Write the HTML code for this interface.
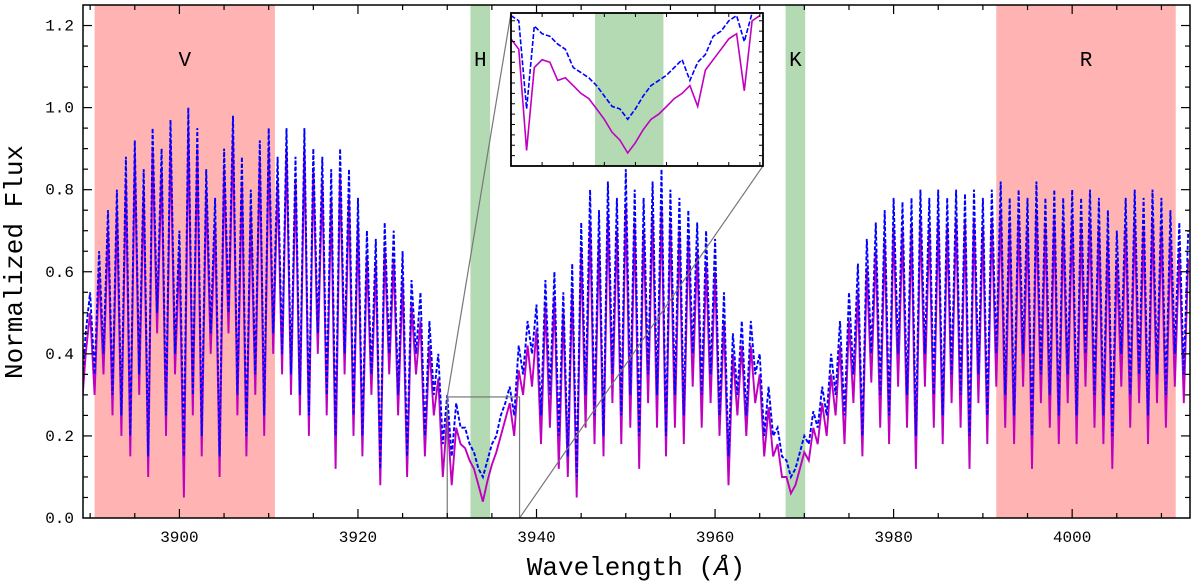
<!DOCTYPE html>
<html><head><meta charset="utf-8">
<style>
body{margin:0;background:#fff;}
svg{display:block;font-family:"Liberation Mono","DejaVu Sans Mono",monospace;}
</style></head>
<body>
<svg id="chart" width="1200" height="585" viewBox="0 0 1200 585" xmlns="http://www.w3.org/2000/svg"></svg>
<script>
// ---- data ----
const wlStart = 3889.0, wlStep = 0.5;
const blueFlux = [
0.30,0.45,0.55,0.35,0.65,0.40,0.75,0.30,0.80,0.25,
0.88,0.20,0.92,0.35,0.85,0.15,0.95,0.50,0.90,0.25,
0.97,0.40,0.70,0.15,1.00,0.30,0.95,0.20,0.85,0.45,
0.78,0.15,0.90,0.50,0.98,0.30,0.88,0.20,0.80,0.35,
0.92,0.25,0.95,0.45,0.88,0.40,0.95,0.35,0.88,0.30,
0.95,0.25,0.90,0.45,0.88,0.30,0.85,0.20,0.90,0.40,
0.85,0.25,0.78,0.20,0.70,0.35,0.68,0.12,0.72,0.40,
0.70,0.30,0.65,0.15,0.58,0.40,0.55,0.20,0.48,0.30,
0.40,0.18,0.30,0.15,0.28,0.22,0.22,0.18,0.16,0.12,
0.10,0.14,0.18,0.20,0.25,0.28,0.32,0.25,0.42,0.35,
0.48,0.40,0.52,0.25,0.58,0.30,0.60,0.20,0.55,0.15,
0.62,0.10,0.72,0.30,0.80,0.25,0.75,0.20,0.82,0.35,
0.78,0.25,0.85,0.30,0.80,0.20,0.78,0.35,0.82,0.30,
0.85,0.20,0.80,0.30,0.78,0.25,0.75,0.40,0.72,0.30,
0.70,0.35,0.68,0.25,0.55,0.15,0.45,0.30,0.48,0.25,
0.48,0.35,0.40,0.20,0.32,0.20,0.22,0.15,0.14,0.10,
0.12,0.16,0.20,0.18,0.26,0.22,0.32,0.25,0.40,0.30,
0.48,0.25,0.55,0.35,0.62,0.20,0.68,0.40,0.72,0.30,
0.75,0.25,0.78,0.40,0.77,0.30,0.78,0.20,0.80,0.40,
0.78,0.30,0.80,0.25,0.78,0.35,0.80,0.30,0.79,0.20,
0.80,0.35,0.78,0.25,0.80,0.40,0.82,0.30,0.78,0.25,
0.80,0.40,0.78,0.20,0.82,0.35,0.78,0.30,0.80,0.25,
0.78,0.35,0.80,0.25,0.78,0.40,0.80,0.30,0.78,0.25,
0.75,0.20,0.70,0.40,0.78,0.30,0.80,0.35,0.78,0.25,
0.80,0.35,0.78,0.30,0.75,0.40,0.72,0.35,0.70];
const magentaFlux = [
0.25,0.40,0.50,0.30,0.60,0.35,0.70,0.25,0.75,0.20,
0.82,0.15,0.88,0.30,0.80,0.10,0.90,0.45,0.85,0.20,
0.92,0.35,0.65,0.05,0.95,0.25,0.90,0.15,0.80,0.40,
0.72,0.10,0.85,0.45,0.93,0.25,0.82,0.15,0.75,0.30,
0.88,0.20,0.90,0.40,0.82,0.35,0.90,0.30,0.82,0.25,
0.90,0.20,0.85,0.40,0.82,0.25,0.78,0.12,0.84,0.35,
0.78,0.20,0.72,0.15,0.64,0.30,0.62,0.08,0.66,0.35,
0.63,0.25,0.58,0.10,0.52,0.35,0.48,0.15,0.42,0.25,
0.34,0.10,0.25,0.08,0.22,0.18,0.17,0.14,0.12,0.08,
0.04,0.09,0.13,0.16,0.20,0.24,0.28,0.20,0.36,0.30,
0.42,0.32,0.46,0.18,0.52,0.22,0.54,0.12,0.50,0.10,
0.56,0.05,0.66,0.22,0.72,0.18,0.68,0.15,0.74,0.28,
0.70,0.18,0.76,0.22,0.72,0.12,0.70,0.28,0.74,0.22,
0.76,0.15,0.72,0.22,0.70,0.18,0.68,0.32,0.65,0.22,
0.62,0.28,0.60,0.20,0.48,0.08,0.40,0.25,0.42,0.20,
0.42,0.28,0.35,0.15,0.27,0.15,0.18,0.10,0.10,0.06,
0.08,0.12,0.16,0.14,0.22,0.18,0.28,0.20,0.35,0.25,
0.42,0.18,0.48,0.28,0.55,0.15,0.61,0.33,0.65,0.22,
0.68,0.18,0.71,0.32,0.70,0.22,0.71,0.12,0.73,0.32,
0.71,0.22,0.73,0.18,0.71,0.28,0.73,0.22,0.72,0.12,
0.73,0.28,0.71,0.18,0.73,0.32,0.75,0.22,0.71,0.18,
0.73,0.32,0.71,0.12,0.75,0.28,0.71,0.22,0.73,0.18,
0.71,0.28,0.73,0.18,0.71,0.32,0.73,0.22,0.71,0.18,
0.68,0.12,0.63,0.32,0.71,0.22,0.73,0.28,0.71,0.18,
0.73,0.28,0.71,0.22,0.68,0.32,0.65,0.28,0.63];
const insetStart = 3930.0, insetStep = 0.25;
const insetBlue = [0.29,0.28,0.11,0.27,0.255,0.25,0.235,0.225,0.19,0.18,0.17,0.155,0.135,0.115,0.11,0.09,0.11,0.135,0.155,0.165,0.175,0.19,0.205,0.165,0.20,0.215,0.25,0.26,0.28,0.29,0.24,0.295,0.295];
const insetMagenta = [0.245,0.225,0.03,0.19,0.205,0.20,0.165,0.17,0.155,0.14,0.13,0.11,0.09,0.065,0.05,0.025,0.045,0.07,0.09,0.10,0.115,0.13,0.14,0.155,0.115,0.185,0.205,0.225,0.245,0.255,0.145,0.28,0.29];
const bandNames = ["V","H","K","R"];
const bandStarts = [3890.5, 3932.6, 3967.9, 3991.5];
const bandEnds = [3910.7, 3934.8, 3970.1, 4011.6];
const xTickLabels = [3900,3920,3940,3960,3980,4000];
const yTickLabels = [0.0,0.2,0.4,0.6,0.8,1.0,1.2];

// ---- layout ----
const NS="http://www.w3.org/2000/svg";
const svg=document.getElementById('chart');
const X0=83,X1=1190,Y0=5,Y1=518;
const xMin=3889.2,xMax=4013.2,yMin=0,yMax=1.25;
const xs=v=>X0+(v-xMin)/(xMax-xMin)*(X1-X0);
const ys=v=>Y1-(v-yMin)/(yMax-yMin)*(Y1-Y0);
function mk(tag,attrs,parent){const e=document.createElementNS(NS,tag);for(const k in attrs)e.setAttribute(k,attrs[k]);(parent||svg).appendChild(e);return e;}

const defs=mk('defs',{});
const cp=mk('clipPath',{id:'plotclip'},defs);
mk('rect',{x:X0,y:Y0,width:X1-X0,height:Y1-Y0},cp);

// bands
bandNames.forEach((n,i)=>{
  const isCa=(n==="H"||n==="K");
  const r=mk('rect',{x:xs(bandStarts[i]),y:Y0,width:xs(bandEnds[i])-xs(bandStarts[i]),height:Y1-Y0,fill:isCa?'#b3dab3':'#ffb3b3'});
  
  
  const t=mk('text',{x:(xs(bandStarts[i])+xs(bandEnds[i]))/2,y:66,'text-anchor':'middle','font-size':21,fill:'#000'});
  t.textContent=n;
  
  
});

function pathFrom(arr,start,step,xf,yf){return arr.map((v,i)=>(i?'L':'M')+xf(start+i*step).toFixed(1)+' '+yf(v).toFixed(1)).join(' ');}
const g=mk('g',{'clip-path':'url(#plotclip)'});
const pm=mk('path',{d:pathFrom(magentaFlux,wlStart,wlStep,xs,ys),fill:'none',stroke:'#c000c0','stroke-width':1.9},g);


const pb=mk('path',{d:pathFrom(blueFlux,wlStart,wlStep,xs,ys),fill:'none',stroke:'#0000ff','stroke-width':1.9,'stroke-dasharray':'4,2'},g);



// zoom rectangle + connectors
const zx0=xs(3930),zx1=xs(3938.1),zyT=ys(0.295);
const IX0=511,IX1=763,IY0=13,IY1=166;
const zr=mk('rect',{x:zx0,y:zyT,width:zx1-zx0,height:Y1-zyT,fill:'none',stroke:'#777','stroke-width':1.2});


mk('line',{x1:zx0,y1:zyT,x2:IX0,y2:IY0,stroke:'#777','stroke-width':1.2});
mk('line',{x1:zx1,y1:Y1,x2:IX1,y2:IY1,stroke:'#777','stroke-width':1.2});

// axes frame
const fr=mk('rect',{x:X0,y:Y0,width:X1-X0,height:Y1-Y0,fill:'none',stroke:'#000','stroke-width':1.5});



// ticks
for(let w=3890;w<=4013;w+=5){const x=xs(w);const maj=(w%20===0);const L=maj?9:5;
  mk('line',{x1:x,y1:Y1,x2:x,y2:Y1-L,stroke:'#000','stroke-width':1.2});
  mk('line',{x1:x,y1:Y0,x2:x,y2:Y0+L,stroke:'#000','stroke-width':1.2});}
for(let k=1;k<25;k++){const v=k*0.05;const y=ys(v);const maj=(k%4===0);const L=maj?9:5;
  mk('line',{x1:X0,y1:y,x2:X0+L,y2:y,stroke:'#000','stroke-width':1.2});
  mk('line',{x1:X1,y1:y,x2:X1-L,y2:y,stroke:'#000','stroke-width':1.2});}
xTickLabels.forEach(v=>{const t=mk('text',{x:xs(v),y:542,'text-anchor':'middle','font-size':16});t.textContent=v;
  
  });
yTickLabels.forEach(v=>{const t=mk('text',{x:74,y:ys(v)+5,'text-anchor':'end','font-size':16});t.textContent=v.toFixed(1);
  
  });

const xt=mk('text',{x:636,y:575,'text-anchor':'middle','font-size':26});
xt.innerHTML='Wavelength (<tspan font-style="italic">Å</tspan>)';


const yt=mk('text',{x:0,y:0,'text-anchor':'middle','font-size':26,transform:'translate(22,262) rotate(-90)'});
yt.textContent='Normalized Flux';



// inset
const ixs=v=>IX0+(v-3930)/(3938.1-3930)*(IX1-IX0);
const iys=v=>IY1-(v-0)/(0.295)*(IY1-IY0);
const ig=mk('g',{});


mk('rect',{x:IX0,y:IY0,width:IX1-IX0,height:IY1-IY0,fill:'#fff'},ig);
mk('rect',{x:ixs(3932.7),y:IY0,width:ixs(3934.9)-ixs(3932.7),height:IY1-IY0,fill:'#b3dab3'},ig);
const icp=mk('clipPath',{id:'insetclip'},defs);
mk('rect',{x:IX0,y:IY0,width:IX1-IX0,height:IY1-IY0},icp);
const ig2=mk('g',{'clip-path':'url(#insetclip)'},ig);
const im=mk('path',{d:pathFrom(insetMagenta,insetStart,insetStep,ixs,iys),fill:'none',stroke:'#c000c0','stroke-width':1.6},ig2);


const ib=mk('path',{d:pathFrom(insetBlue,insetStart,insetStep,ixs,iys),fill:'none',stroke:'#0000ff','stroke-width':1.6,'stroke-dasharray':'5,2'},ig2);


for(let w=3931;w<=3938;w+=1){const x=ixs(w);
  mk('line',{x1:x,y1:IY1,x2:x,y2:IY1-4,stroke:'#000'},ig);
  mk('line',{x1:x,y1:IY0,x2:x,y2:IY0+4,stroke:'#000'},ig);}
for(let k=1;k<15;k++){const y=iys(k*0.02);
  mk('line',{x1:IX0,y1:y,x2:IX0+4,y2:y,stroke:'#000'},ig);
  mk('line',{x1:IX1,y1:y,x2:IX1-4,y2:y,stroke:'#000'},ig);}
mk('rect',{x:IX0,y:IY0,width:IX1-IX0,height:IY1-IY0,fill:'none',stroke:'#000','stroke-width':1.8},ig);
</script>
</body></html>
